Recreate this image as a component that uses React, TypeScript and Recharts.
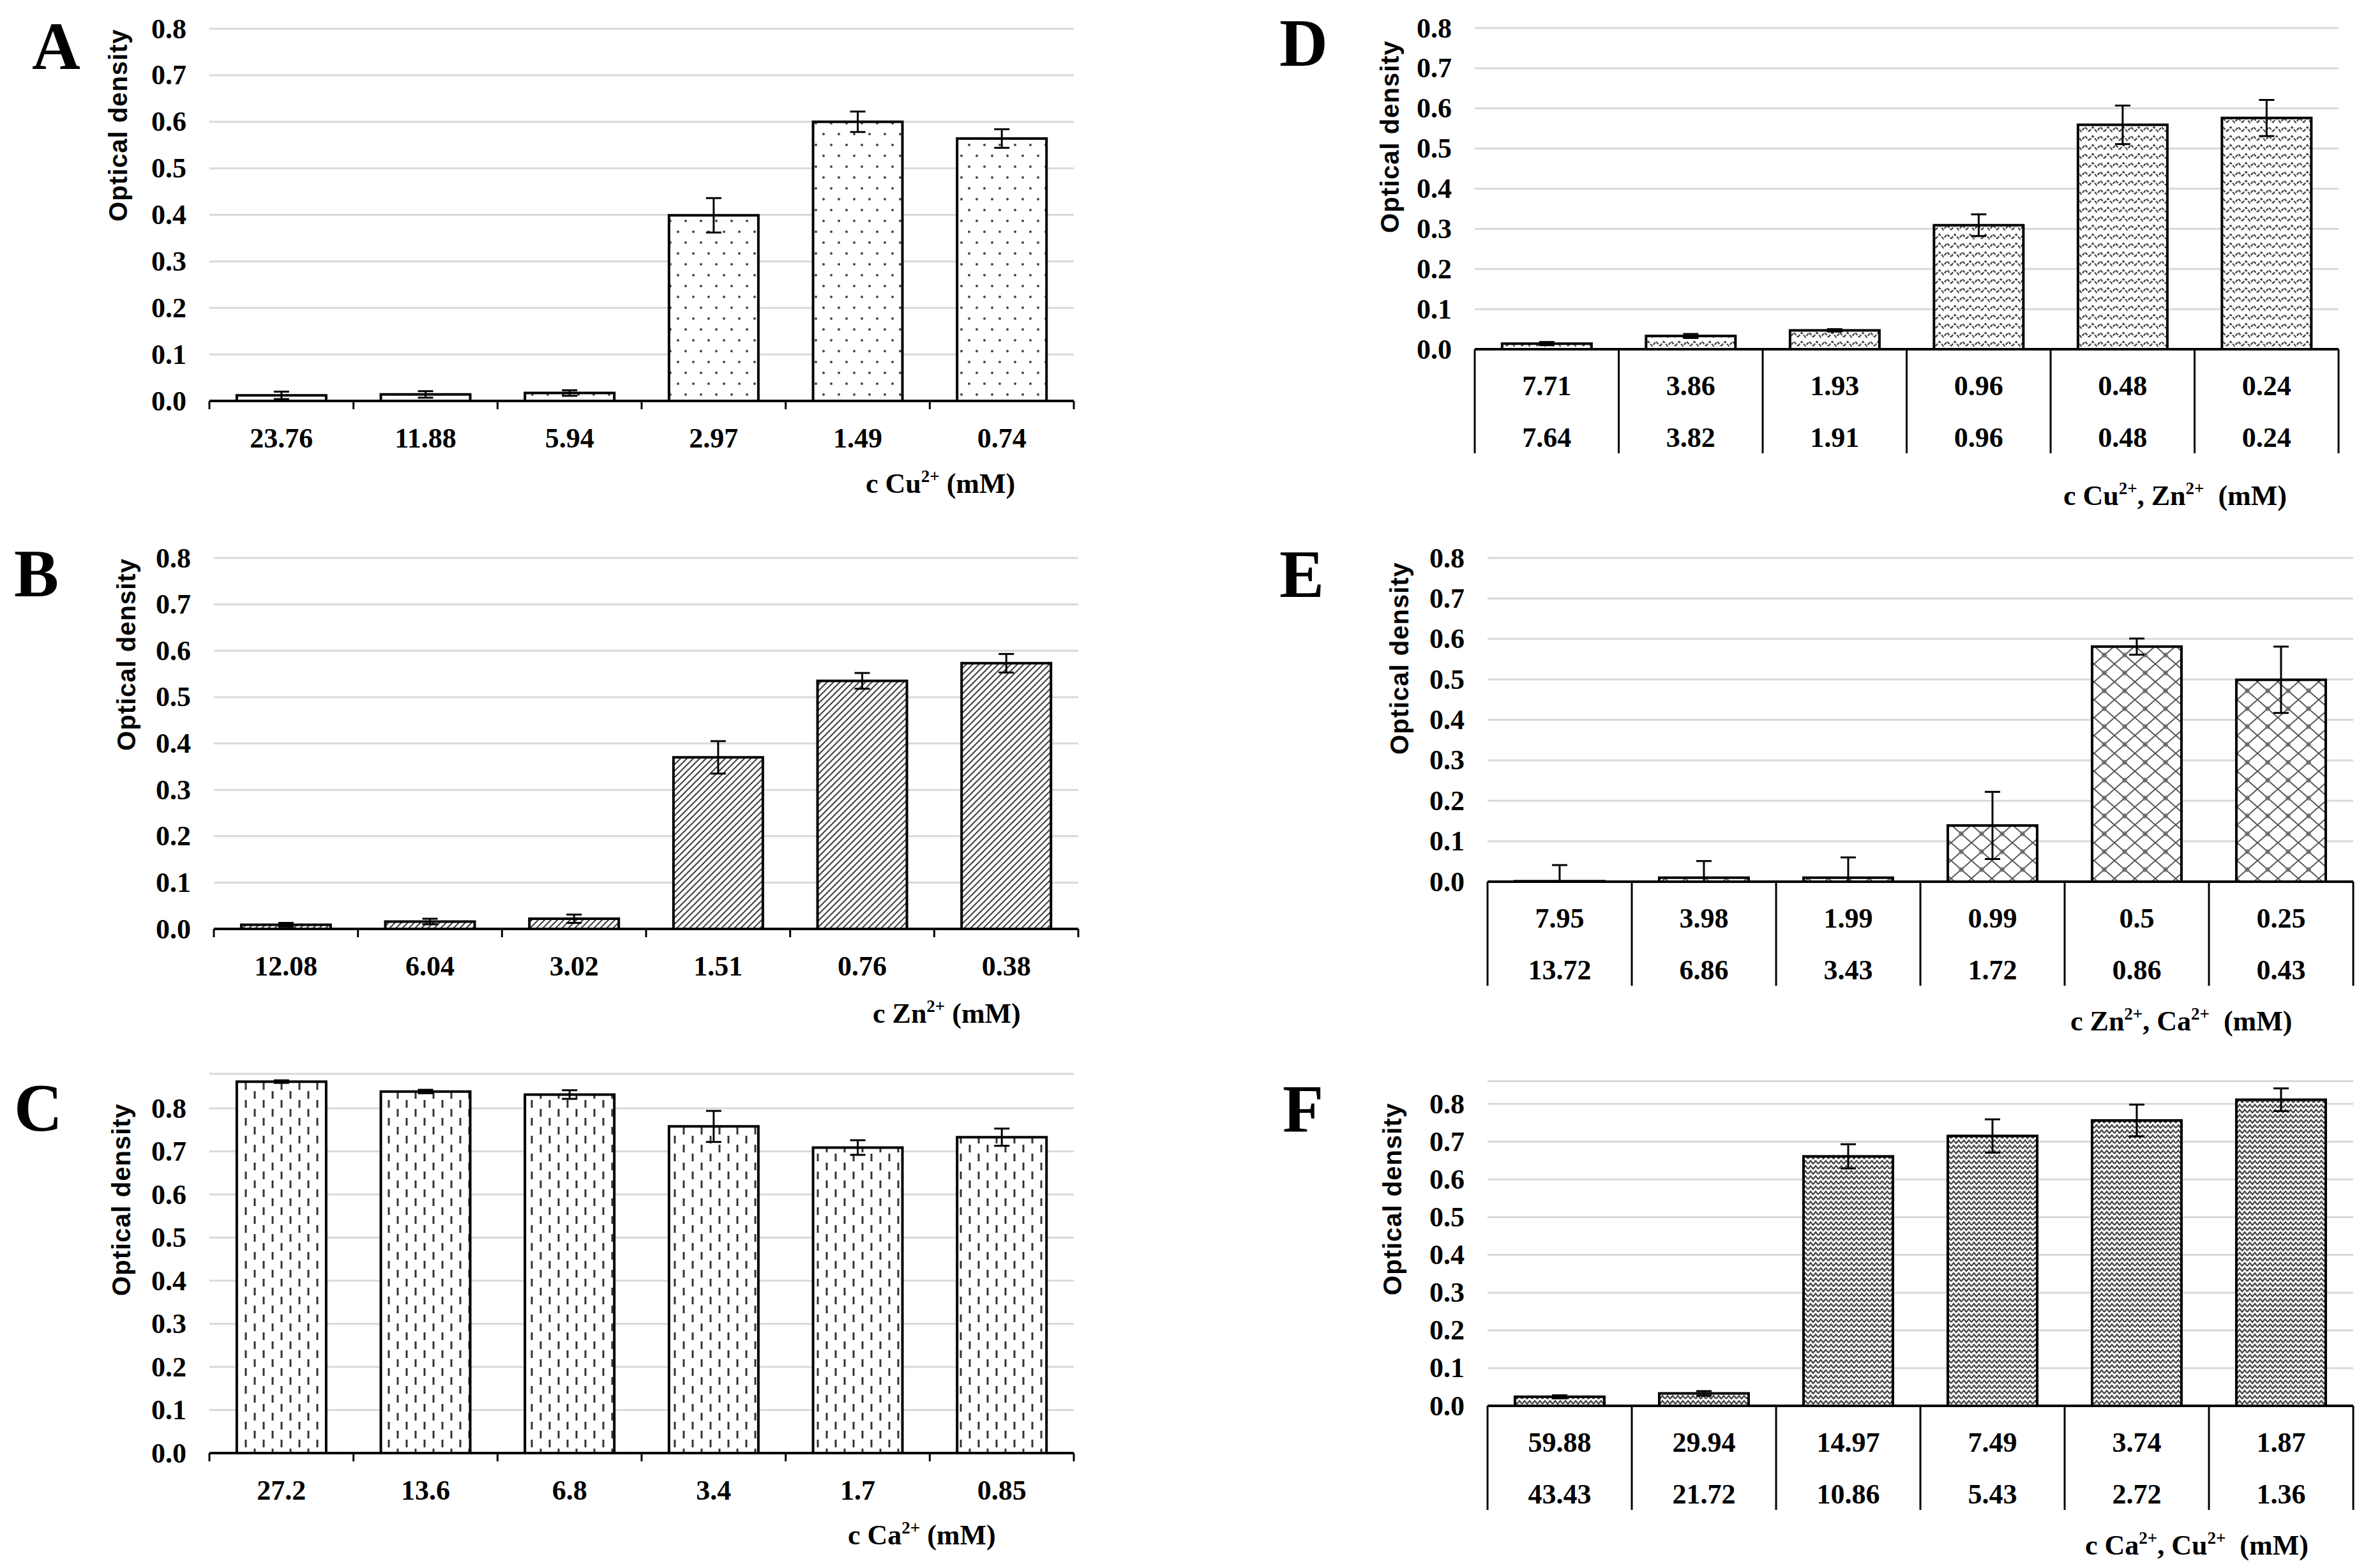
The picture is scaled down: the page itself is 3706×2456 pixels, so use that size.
import React from "react";
import { BarChart, Bar, XAxis, YAxis, CartesianGrid, ErrorBar } from "recharts";

// panel A - Cu2+
const catsA = ["23.76", "11.88", "5.94", "2.97", "1.49", "0.74"];
const valsA = [0.012, 0.014, 0.017, 0.399, 0.6, 0.564];
const errA = [0.008, 0.007, 0.006, 0.037, 0.022, 0.02];

// panel B - Zn2+
const catsB = ["12.08", "6.04", "3.02", "1.51", "0.76", "0.38"];
const valsB = [0.009, 0.016, 0.022, 0.37, 0.535, 0.573];
const errB = [0.004, 0.006, 0.009, 0.035, 0.017, 0.02];

// panel C - Ca2+
const catsC = ["27.2", "13.6", "6.8", "3.4", "1.7", "0.85"];
const valsC = [0.862, 0.839, 0.832, 0.758, 0.709, 0.733];
const errC = [0.003, 0.004, 0.01, 0.036, 0.017, 0.02];

// panel D - Cu2+, Zn2+
const catsD = ["7.71", "3.86", "1.93", "0.96", "0.48", "0.24"];
const catsD2 = ["7.64", "3.82", "1.91", "0.96", "0.48", "0.24"];
const valsD = [0.014, 0.033, 0.047, 0.309, 0.559, 0.576];
const errD = [0.004, 0.005, 0.003, 0.027, 0.048, 0.045];

// panel E - Zn2+, Ca2+ (low errors cut at zero, as in the original)
const catsE = ["7.95", "3.98", "1.99", "0.99", "0.5", "0.25"];
const catsE2 = ["13.72", "6.86", "3.43", "1.72", "0.86", "0.43"];
const valsE = [0.001, 0.01, 0.01, 0.139, 0.581, 0.499];
const errE: (number | number[])[] = [[0.001, 0.04], [0.01, 0.041], [0.01, 0.05], 0.083, 0.02, 0.082];

// panel F - Ca2+, Cu2+
const catsF = ["59.88", "29.94", "14.97", "7.49", "3.74", "1.87"];
const catsF2 = ["43.43", "21.72", "10.86", "5.43", "2.72", "1.36"];
const valsF = [0.024, 0.033, 0.661, 0.715, 0.756, 0.811];
const errF = [0.004, 0.006, 0.032, 0.044, 0.042, 0.03];

const yTicks = [0, 0.1, 0.2, 0.3, 0.4, 0.5, 0.6, 0.7, 0.8];

const NUM_FONT = "'Liberation Serif', 'Times New Roman', serif";
const TITLE_FONT = "'Liberation Sans', Arial, sans-serif";
const YAXIS_W = 120;
const XAXIS_H = 180;

function patternDefs(kind: string, id: string) {
  switch (kind) {
    case "dots":
      return (
        <pattern id={id} width={24} height={34} patternUnits="userSpaceOnUse">
          <rect width={24} height={34} fill="#fff" />
          <circle cx={6} cy={8} r={2} fill="#444" />
          <circle cx={18} cy={25} r={2} fill="#444" />
        </pattern>
      );
    case "diag":
      return (
        <pattern id={id} width={10} height={10} patternUnits="userSpaceOnUse">
          <rect width={10} height={10} fill="#fff" />
          <path d="M-2,12 L12,-2 M-2,2 L2,-2 M8,12 L12,8" stroke="#444" strokeWidth={2.2} />
        </pattern>
      );
    case "dash":
      return (
        <pattern id={id} width={28} height={28} patternUnits="userSpaceOnUse">
          <rect width={28} height={28} fill="#fff" />
          <path d="M7,1 L7,13 M21,15 L21,27" stroke="#333" strokeWidth={3} />
        </pattern>
      );
    case "wave":
      return (
        <pattern id={id} width={24} height={14} patternUnits="userSpaceOnUse">
          <rect width={24} height={14} fill="#fff" />
          <path d="M0,10 L6,3 L12,10 L18,3 L24,10" stroke="#444" strokeWidth={2.2} fill="none" strokeDasharray="5 2" />
        </pattern>
      );
    case "diamond":
      return (
        <pattern id={id} width={32} height={28} patternUnits="userSpaceOnUse">
          <rect width={32} height={28} fill="#fff" />
          <path d="M0,0 L32,28 M32,0 L0,28" stroke="#555" strokeWidth={2} />
          <circle cx={16} cy={14} r={3} fill="none" stroke="#777" strokeWidth={1.5} />
        </pattern>
      );
    default:
      return (
        <pattern id={id} width={16} height={16} patternUnits="userSpaceOnUse">
          <rect width={16} height={16} fill="#fff" />
          <path d="M0,7 L4,2 L8,7 L12,2 L16,7 M0,15 L4,10 L8,15 L12,10 L16,15" stroke="#444" strokeWidth={2.3} fill="none" />
        </pattern>
      );
  }
}

interface PanelProps {
  id: string;
  cats: string[];
  cats2?: string[];
  vals: number[];
  errs: (number | number[])[];
  pattern: string;
  panelX: number;
  plotLeft: number;
  plotRight: number;
  y0: number;
  y08: number;
  domainMax: number;
}

function Panel(p: PanelProps) {
  const data = p.cats.map((c, i) => ({ cat: c, v: p.vals[i], err: p.errs[i] }));
  const plotTop = p.y0 - ((p.y0 - p.y08) * p.domainMax) / 0.8;
  const chartTop = Math.round(plotTop - 30);
  const height = p.y0 - chartTop + XAXIS_H;
  const width = p.plotRight + 10 - p.panelX;
  const catW = (p.plotRight - p.plotLeft) / p.cats.length;
  const half = catW / 2;
  const last = p.cats.length - 1;
  const table = !!p.cats2;

  const renderTick = (props: any) => {
    const { x, y, payload, index } = props;
    const lineLen = table ? 163 : 13;
    return (
      <g>
        <line x1={x - half} y1={y} x2={x - half} y2={y + lineLen} stroke="#000" strokeWidth={3} />
        {index === last && (
          <line x1={x + half} y1={y} x2={x + half} y2={y + lineLen} stroke="#000" strokeWidth={3} />
        )}
        <text
          x={x}
          y={y + (table ? 57 : 58)}
          textAnchor="middle"
          dominantBaseline="central"
          fontFamily={NUM_FONT}
          fontWeight="bold"
          fontSize={44}
          fill="#000"
        >
          {payload.value}
        </text>
        {table && (
          <text
            x={x}
            y={y + 138}
            textAnchor="middle"
            dominantBaseline="central"
            fontFamily={NUM_FONT}
            fontWeight="bold"
            fontSize={44}
            fill="#000"
          >
            {p.cats2![index]}
          </text>
        )}
      </g>
    );
  };

  const renderYTick = (props: any) => {
    const { x, y, payload } = props;
    return (
      <text
        x={x}
        y={y}
        textAnchor="end"
        dominantBaseline="central"
        fontFamily={NUM_FONT}
        fontWeight="bold"
        fontSize={44}
        fill="#000"
      >
        {Number(payload.value).toFixed(1)}
      </text>
    );
  };

  return (
    <div style={{ position: "absolute", left: p.panelX, top: chartTop }}>
      <BarChart
        width={width}
        height={height}
        data={data}
        margin={{ top: plotTop - chartTop, right: 10, bottom: 0, left: p.plotLeft - p.panelX - YAXIS_W }}
        barCategoryGap="19%"
      >
        <defs>{patternDefs(p.pattern, `pat-${p.id}`)}</defs>
        <CartesianGrid vertical={false} stroke="#d9d9d9" strokeWidth={3} />
        <YAxis
          width={YAXIS_W}
          domain={[0, p.domainMax]}
          ticks={yTicks}
          axisLine={false}
          tickLine={false}
          tickSize={0}
          tickMargin={36}
          tick={renderYTick}
        />
        <XAxis
          dataKey="cat"
          height={XAXIS_H}
          interval={0}
          axisLine={{ stroke: "#000", strokeWidth: 4 }}
          tickLine={false}
          tickSize={0}
          tickMargin={0}
          tick={renderTick}
        />
        <Bar dataKey="v" fill={`url(#pat-${p.id})`} stroke="#000" strokeWidth={4} isAnimationActive={false}>
          <ErrorBar dataKey="err" width={12} stroke="#000" strokeWidth={3} />
        </Bar>
      </BarChart>
    </div>
  );
}

const letters = [
  { t: "A", x: 50, y: 108 },
  { t: "B", x: 22, y: 934 },
  { t: "C", x: 22, y: 1771 },
  { t: "D", x: 2004, y: 103 },
  { t: "E", x: 2004, y: 935 },
  { t: "F", x: 2009, y: 1773 },
];

const yTitles = [
  { x: 185, y: 196 },
  { x: 198, y: 1025 },
  { x: 190, y: 1879 },
  { x: 2177, y: 214 },
  { x: 2192, y: 1031 },
  { x: 2181, y: 1878 },
];

// [text, superscript]
const xTitles: { x: number; y: number; parts: [string, string | null][] }[] = [
  { x: 1356, y: 772, parts: [["c Cu", "2+"], [" (mM)", null]] },
  { x: 1367, y: 1602, parts: [["c Zn", "2+"], [" (mM)", null]] },
  { x: 1328, y: 2419, parts: [["c Ca", "2+"], [" (mM)", null]] },
  { x: 3232, y: 791, parts: [["c Cu", "2+"], [", Zn", "2+"], ["  (mM)", null]] },
  { x: 3243, y: 1614, parts: [["c Zn", "2+"], [", Ca", "2+"], ["  (mM)", null]] },
  { x: 3266, y: 2435, parts: [["c Ca", "2+"], [", Cu", "2+"], ["  (mM)", null]] },
];

const SUP_SHIFT = 17;

export default function App() {
  return (
    <div
      style={{
        position: "absolute",
        left: 0,
        top: 0,
        width: 3706,
        height: 2456,
        background: "#fff",
        overflow: "hidden",
      }}
    >
      <Panel id="A" cats={catsA} vals={valsA} errs={errA} pattern="dots" panelX={0}
        plotLeft={328} plotRight={1682} y0={628} y08={45} domainMax={0.8} />
      <Panel id="B" cats={catsB} vals={valsB} errs={errB} pattern="diag" panelX={0}
        plotLeft={335} plotRight={1689} y0={1455} y08={874} domainMax={0.8} />
      <Panel id="C" cats={catsC} vals={valsC} errs={errC} pattern="dash" panelX={0}
        plotLeft={328} plotRight={1682} y0={2276} y08={1736} domainMax={0.88} />
      <Panel id="D" cats={catsD} cats2={catsD2} vals={valsD} errs={errD} pattern="wave" panelX={2000}
        plotLeft={2310} plotRight={3663} y0={547} y08={44} domainMax={0.8} />
      <Panel id="E" cats={catsE} cats2={catsE2} vals={valsE} errs={errE} pattern="diamond" panelX={2000}
        plotLeft={2330} plotRight={3686} y0={1381} y08={874} domainMax={0.8} />
      <Panel id="F" cats={catsF} cats2={catsF2} vals={valsF} errs={errF} pattern="zigzag" panelX={2000}
        plotLeft={2330} plotRight={3686} y0={2202} y08={1729} domainMax={0.86} />

      <svg
        width={3706}
        height={2456}
        style={{ position: "absolute", left: 0, top: 0, pointerEvents: "none" }}
      >
        {letters.map((l) => (
          <text key={l.t} x={l.x} y={l.y} fontFamily={NUM_FONT} fontWeight="bold" fontSize={105} fill="#000">
            {l.t}
          </text>
        ))}
        {yTitles.map((t, i) => (
          <text
            key={i}
            x={t.x}
            y={t.y}
            transform={`rotate(-90 ${t.x} ${t.y})`}
            textAnchor="middle"
            dominantBaseline="central"
            fontFamily={TITLE_FONT}
            fontWeight="bold"
            fontSize={40}
            letterSpacing={1}
            fill="#000"
          >
            Optical density
          </text>
        ))}
        {xTitles.map((t, i) => (
          <text
            key={i}
            x={t.x}
            y={t.y}
            xmlSpace="preserve"
            fontFamily={NUM_FONT}
            fontWeight="bold"
            fontSize={44}
            fill="#000"
          >
            {t.parts.map((part, j) => (
              <React.Fragment key={j}>
                <tspan dy={j > 0 && t.parts[j - 1][1] ? SUP_SHIFT : 0}>{part[0]}</tspan>
                {part[1] && (
                  <tspan fontSize={27} dy={-SUP_SHIFT}>
                    {part[1]}
                  </tspan>
                )}
              </React.Fragment>
            ))}
          </text>
        ))}
      </svg>
    </div>
  );
}
